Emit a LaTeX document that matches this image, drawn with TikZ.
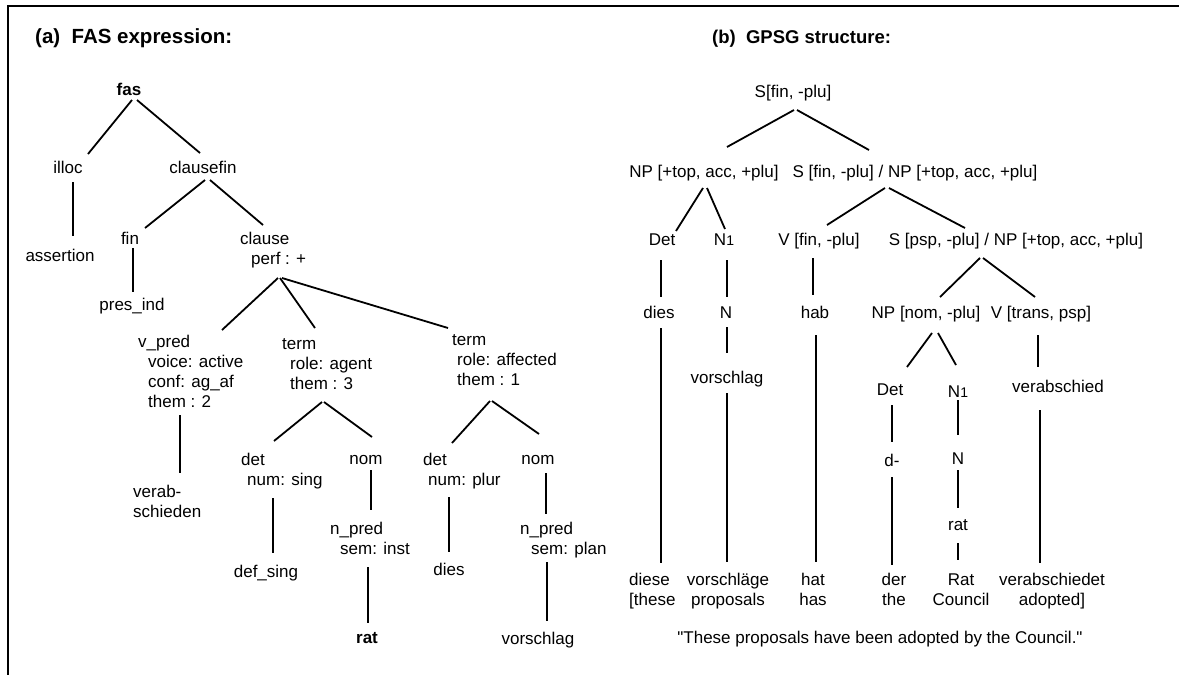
\documentclass[tikz,border=0pt]{standalone}
\usepackage{fontspec}
\setmainfont{Liberation Sans}
\newcommand{\mlines}[1]{\begin{tabular}[t]{@{}l@{}}#1\end{tabular}}
\newcommand{\clines}[1]{\begin{tabular}[t]{@{}c@{}}#1\end{tabular}}
\newcommand{\ind}[1]{\hspace*{#1pt}}
\newcommand{\one}{{\fontsize{14}{14}\selectfont 1}}
\begin{document}
\begin{tikzpicture}[x=1pt,y=-1pt,
  lbl/.style={inner sep=0pt, font=\fontsize{17}{20}\selectfont, anchor=base},
  mlbl/.style={lbl, anchor=base west},
  boldlbl/.style={lbl, font=\fontsize{17}{20}\selectfont\bfseries},
  edge/.style={line width=1.8pt},
  longedge/.style={line width=1.4pt},
  title/.style={inner sep=0pt, anchor=base west},
  frame/.style={line width=2.5pt}]
\useasboundingbox (0,0) rectangle (1179,675);
\draw[frame] (8,675) -- (8,6) -- (1179,6);

% titles
\node[title, font=\fontsize{20.5}{24}\selectfont\bfseries] (titleA) at (35,43) {(a)\ \ FAS expression:};
\node[title, font=\fontsize{18.5}{22}\selectfont\bfseries] (titleB) at (712,43) {(b)\ \ GPSG structure:};

% ---------- (a) FAS expression ----------
\node[boldlbl] (fas) at (129,95) {fas};
\node[lbl] (illoc) at (68,173) {illoc};
\node[lbl] (clausefin) at (203,173) {clausefin};
\node[lbl] (assertion) at (60,261) {assertion};
\node[lbl] (fin) at (130,244) {fin};
\node[mlbl] (clause) at (240,244) {\mlines{clause\\\ind{11}perf : +}};
\node[lbl] (presind) at (132,310) {pres\_ind};
\node[mlbl] (vpred) at (138,347) {\mlines{v\_pred\\\ind{10}voice: active\\\ind{10}conf: ag\_af\\\ind{10}them : 2}};
\node[mlbl] (termA) at (282,349) {\mlines{term\\\ind{8}role: agent\\\ind{8}them : 3}};
\node[mlbl] (termB) at (452,345) {\mlines{term\\\ind{5}role: affected\\\ind{5}them : 1}};
\node[mlbl] (verab) at (133,497) {\mlines{verab-\\schieden}};
\node[mlbl] (detA) at (241,465) {\mlines{det\\\ind{6}num: sing}};
\node[lbl] (nomA) at (366,464) {nom};
\node[lbl] (defsing) at (266,577) {def\_sing};
\node[mlbl] (npredA) at (330,534) {\mlines{n\_pred\\\ind{10}sem: inst}};
\node[boldlbl] (ratA) at (367,643) {rat};
\node[mlbl] (detB) at (423,465) {\mlines{det\\\ind{5}num: plur}};
\node[lbl] (nomB) at (538,464) {nom};
\node[lbl] (diesA) at (449,575) {dies};
\node[mlbl] (npredB) at (520,534) {\mlines{n\_pred\\\ind{11}sem: plan}};
\node[lbl] (vorschlagA) at (538,644) {vorschlag};

\draw[edge] ([shift={(3,5)}]fas.base) -- ([shift={(20,-19)}]illoc.base);
\draw[edge] ([shift={(8,5)}]fas.base) -- ([shift={(-3,-20)}]clausefin.base);
\draw[edge] ([shift={(5,9)}]illoc.base) -- ([shift={(13,-25)}]assertion.base);
\draw[edge] ([shift={(2,7)}]clausefin.base) -- ([shift={(15,-16)}]fin.base);
\draw[edge] ([shift={(7,7)}]clausefin.base) -- ([shift={(23,-19)}]clause.base west);
\draw[edge] ([shift={(3,4)}]fin.base) -- ([shift={(1,-18)}]presind.base);
\draw[edge] ([shift={(38,34)}]clause.base west) -- ([shift={(84,-17)}]vpred.base west);
\draw[edge] ([shift={(40,34)}]clause.base west) -- ([shift={(33,-21)}]termA.base west);
\draw[edge] ([shift={(42,34)}]clause.base west) -- ([shift={(-4,-17)}]termB.base west);
\draw[edge] ([shift={(42,68)}]vpred.base west) -- ([shift={(47,-24)}]verab.base west);
\draw[edge] ([shift={(40,53)}]termA.base west) -- ([shift={(33,-24)}]detA.base west);
\draw[edge] ([shift={(42,53)}]termA.base west) -- ([shift={(6,-27)}]nomA.base);
\draw[edge] ([shift={(32,33)}]detA.base west) -- ([shift={(7,-24)}]defsing.base);
\draw[edge] ([shift={(5,6)}]nomA.base) -- ([shift={(41,-24)}]npredA.base west);
\draw[edge] ([shift={(38,33)}]npredA.base west) -- ([shift={(1,-20)}]ratA.base);
\draw[edge] ([shift={(38,56)}]termB.base west) -- ([shift={(29,-22)}]detB.base west);
\draw[edge] ([shift={(40,56)}]termB.base west) -- ([shift={(1,-30)}]nomB.base);
\draw[edge] ([shift={(26,32)}]detB.base west) -- ([shift={(0,-23)}]diesA.base);
\draw[edge] ([shift={(8,9)}]nomB.base) -- ([shift={(26,-20)}]npredB.base west);
\draw[edge] ([shift={(27,28)}]npredB.base west) -- ([shift={(9,-23)}]vorschlagA.base);

% ---------- (b) GPSG structure ----------
\node[lbl] (S) at (793,97) {S[fin, -plu]};
\node[lbl] (NPtop) at (704,177) {NP [+top, acc, +plu]};
\node[lbl] (SNP) at (915,177) {S [fin, -plu] / NP [+top, acc, +plu]};
\node[lbl] (Det) at (662,245) {Det};
\node[lbl] (Nbar) at (724,245) {N\one};
\node[lbl] (Vfin) at (819,245) {V [fin, -plu]};
\node[lbl] (Spsp) at (1016,245) {S [psp, -plu] / NP [+top, acc, +plu]};
\node[lbl] (diesB) at (659,318) {dies};
\node[lbl] (N) at (726,318) {N};
\node[lbl] (hab) at (815,318) {hab};
\node[lbl] (NPnom) at (926,318) {NP [nom, -plu]};
\node[lbl] (Vtrans) at (1041,318) {V [trans, psp]};
\node[lbl] (vorschlagB) at (727,383) {vorschlag};
\node[lbl] (DetB) at (890,395) {Det};
\node[lbl] (NbarB) at (958,397) {N\one};
\node[lbl] (verabschied) at (1058,392) {verabschied};
\node[lbl] (dminus) at (892,466) {d-};
\node[lbl] (NB) at (958,464) {N};
\node[lbl] (ratB) at (958,530) {rat};

\node[mlbl] (diese) at (629,585) {\mlines{diese\\{}[these}};
\node[lbl] (vorschlaege) at (728,585) {\clines{vorschläge\\proposals}};
\node[lbl] (hat) at (813,585) {\clines{hat\\has}};
\node[lbl] (der) at (894,585) {\clines{der\\the}};
\node[lbl] (Rat) at (961,585) {\clines{Rat\\Council}};
\node[lbl] (verabschiedet) at (1052,585) {\clines{verabschiedet\\adopted]}};
\node[lbl] (gloss) at (880,643) {\textquotedbl These proposals have been adopted by the Council.\textquotedbl};

\draw[edge] ([shift={(1,13)}]S.base) -- ([shift={(23,-30)}]NPtop.base);
\draw[edge] ([shift={(4,13)}]S.base) -- ([shift={(-46,-27)}]SNP.base);
\draw[edge] ([shift={(-1,11)}]NPtop.base) -- ([shift={(14,-14)}]Det.base);
\draw[edge] ([shift={(3,11)}]NPtop.base) -- ([shift={(1,-16)}]Nbar.base);
\draw[edge] ([shift={(-30,11)}]SNP.base) -- ([shift={(8,-20)}]Vfin.base);
\draw[edge] ([shift={(-26,11)}]SNP.base) -- ([shift={(-51,-17)}]Spsp.base);
\draw[edge] ([shift={(-1,15)}]Det.base) -- ([shift={(2,-21)}]diesB.base);
\draw[edge] ([shift={(3,15)}]Nbar.base) -- ([shift={(1,-21)}]N.base);
\draw[edge] ([shift={(-6,13)}]Vfin.base) -- ([shift={(-2,-23)}]hab.base);
\draw[edge] ([shift={(-36,13)}]Spsp.base) -- ([shift={(14,-21)}]NPnom.base);
\draw[edge] ([shift={(-33,13)}]Spsp.base) -- ([shift={(-6,-21)}]Vtrans.base);
\draw[edge] ([shift={(1,9)}]N.base) -- ([shift={(0,-30)}]vorschlagB.base);
\draw[edge] ([shift={(6,15)}]NPnom.base) -- ([shift={(17,-28)}]DetB.base);
\draw[edge] ([shift={(12,15)}]NPnom.base) -- ([shift={(-2,-32)}]NbarB.base);
\draw[edge] ([shift={(-3,17)}]Vtrans.base) -- ([shift={(-20,-25)}]verabschied.base);
\draw[edge] ([shift={(2,10)}]DetB.base) -- ([shift={(0,-24)}]dminus.base);
\draw[edge] ([shift={(0,3)}]NbarB.base) -- ([shift={(0,-29)}]NB.base);
\draw[edge] ([shift={(0,6)}]NB.base) -- ([shift={(0,-22)}]ratB.base);
\draw[longedge] ([shift={(0,11)}]dminus.base) -- ([shift={(-2,-20)}]der.base);
\draw[longedge] ([shift={(0,13)}]ratB.base) -- ([shift={(-3,-25)}]Rat.base);
\draw[longedge] ([shift={(2,10)}]diesB.base) -- ([shift={(32,-22)}]diese.base west);
\draw[longedge] ([shift={(0,10)}]vorschlagB.base) -- ([shift={(-1,-23)}]vorschlaege.base);
\draw[longedge] ([shift={(1,17)}]hab.base) -- ([shift={(3,-23)}]hat.base);
\draw[longedge] ([shift={(-18,18)}]verabschied.base) -- ([shift={(-12,-22)}]verabschiedet.base);
\end{tikzpicture}
\end{document}
